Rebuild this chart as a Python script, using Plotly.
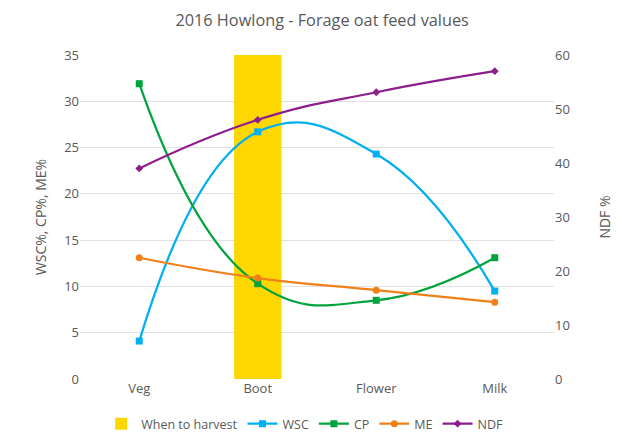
import plotly.graph_objects as go

stages = ["Veg", "Boot", "Flower", "Milk"]
harvest = [None, 35, None, None]
wsc = [4.1, 26.7, 24.3, 9.5]
cp = [31.9, 10.3, 8.5, 13.1]
me = [13.1, 10.9, 9.6, 8.3]
ndf = [39.0, 48.0, 53.1, 57.0]

grey = "#595959"
font = "'Open Sans', Lato, sans-serif"

fig = go.Figure()
fig.add_trace(go.Bar(x=stages, y=harvest, name="When to harvest",
                     marker=dict(color="#FFD700", line=dict(width=0)), width=0.4))
fig.add_trace(go.Scatter(x=stages, y=wsc, name="WSC", mode="lines+markers",
                         line=dict(color="#00B0F0", width=2.25, shape="spline", smoothing=1.3),
                         marker=dict(symbol="square", size=7)))
fig.add_trace(go.Scatter(x=stages, y=cp, name="CP", mode="lines+markers",
                         line=dict(color="#00A33E", width=2.25, shape="spline", smoothing=1.3),
                         marker=dict(symbol="square", size=7)))
fig.add_trace(go.Scatter(x=stages, y=me, name="ME", mode="lines+markers",
                         line=dict(color="#F28018", width=2.25, shape="spline", smoothing=1.3),
                         marker=dict(symbol="circle", size=7)))
fig.add_trace(go.Scatter(x=stages, y=ndf, name="NDF", mode="lines+markers", yaxis="y2",
                         line=dict(color="#8E1E8C", width=2.25, shape="spline", smoothing=1.3),
                         marker=dict(symbol="diamond", size=6)))

fig.update_layout(
    width=622, height=432,
    margin=dict(l=72, r=76, t=47, b=61, autoexpand=False),
    paper_bgcolor="white", plot_bgcolor="white",
    font=dict(family=font, color=grey, size=13),
    title=dict(text="2016 Howlong - Forage oat feed values", x=0.505, xanchor="center",
               xref="container", y=(432 - 12) / 432, yanchor="middle",
               font=dict(size=16.3, color=grey)),
    xaxis=dict(type="category", showgrid=False, showline=False, ticks="", automargin=False,
               tickfont=dict(size=13)),
    yaxis=dict(range=[0, 35], dtick=5, showgrid=True, gridcolor="#E0E0E0", gridwidth=1,
               zeroline=False, ticks="", automargin=False,
               title=dict(text="WSC%, CP%, ME%", font=dict(size=14), standoff=14)),
    yaxis2=dict(range=[0, 60], dtick=10, overlaying="y", side="right", showgrid=False,
                zeroline=False, ticks="", automargin=False,
                title=dict(text="NDF %", font=dict(size=14), standoff=31)),
    legend=dict(orientation="h", x=0.477, xanchor="center", xref="container",
                y=16 / 432, yanchor="middle", yref="container",
                font=dict(size=12.5), itemwidth=30, tracegroupgap=0),
    showlegend=True,
)

fig.write_html("out.html")
